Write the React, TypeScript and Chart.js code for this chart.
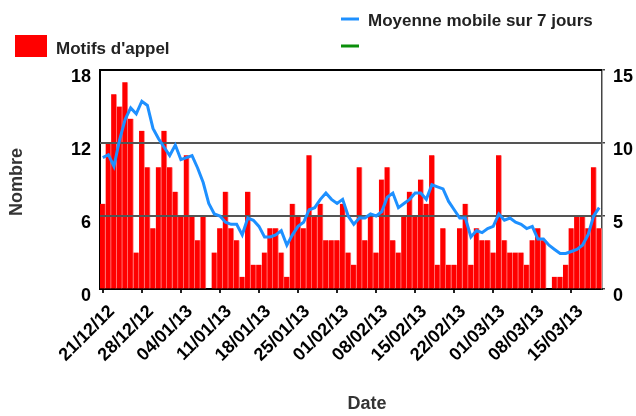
import React, { useEffect, useRef } from 'react';
import { Chart, registerables } from 'chart.js';

Chart.register(...registerables);

// Categories: one per day, 21/12/12 -> 20/03/13
const DAYS: string[] = [
  '21/12/12', '22/12/12', '23/12/12', '24/12/12', '25/12/12', '26/12/12', '27/12/12', '28/12/12', '29/12/12', '30/12/12', '31/12/12',
  '01/01/13', '02/01/13', '03/01/13', '04/01/13', '05/01/13', '06/01/13', '07/01/13', '08/01/13', '09/01/13', '10/01/13',
  '11/01/13', '12/01/13', '13/01/13', '14/01/13', '15/01/13', '16/01/13', '17/01/13', '18/01/13', '19/01/13', '20/01/13',
  '21/01/13', '22/01/13', '23/01/13', '24/01/13', '25/01/13', '26/01/13', '27/01/13', '28/01/13', '29/01/13', '30/01/13', '31/01/13',
  '01/02/13', '02/02/13', '03/02/13', '04/02/13', '05/02/13', '06/02/13', '07/02/13', '08/02/13', '09/02/13', '10/02/13',
  '11/02/13', '12/02/13', '13/02/13', '14/02/13', '15/02/13', '16/02/13', '17/02/13', '18/02/13', '19/02/13', '20/02/13',
  '21/02/13', '22/02/13', '23/02/13', '24/02/13', '25/02/13', '26/02/13', '27/02/13', '28/02/13',
  '01/03/13', '02/03/13', '03/03/13', '04/03/13', '05/03/13', '06/03/13', '07/03/13', '08/03/13', '09/03/13', '10/03/13',
  '11/03/13', '12/03/13', '13/03/13', '14/03/13', '15/03/13', '16/03/13', '17/03/13', '18/03/13', '19/03/13', '20/03/13',
];

// Daily counts (left axis)
const MOTIFS: number[] = [
  7, 12, 16, 15, 17, 14, 3, 13, 10, 5,
  10, 13, 10, 8, 6, 11, 6, 4, 6, 0,
  3, 5, 8, 5, 4, 1, 8, 2, 2, 3,
  5, 5, 3, 1, 7, 6, 5, 11, 6, 7,
  4, 4, 4, 7, 3, 2, 10, 4, 6, 3,
  9, 10, 4, 3, 6, 8, 6, 9, 7, 11,
  2, 5, 2, 2, 5, 7, 2, 5, 4, 4,
  3, 11, 4, 3, 3, 3, 2, 4, 5, 4,
  0, 1, 1, 2, 5, 6, 6, 5, 10, 5,
];

// 7-day moving average (right axis)
const MOYENNE: number[] = [
  9.0, 9.2, 8.4, 10.2, 11.6, 12.4, 12.0, 12.86, 12.57, 11.0,
  10.29, 9.71, 9.14, 9.86, 8.86, 9.0, 9.14, 8.29, 7.29, 5.86,
  5.14, 5.0, 4.57, 4.43, 4.43, 3.71, 4.86, 4.71, 4.29, 3.57,
  3.57, 3.71, 4.0, 3.0, 3.71, 4.29, 4.57, 5.43, 5.57, 6.14,
  6.57, 6.14, 5.86, 6.14, 5.0, 4.43, 4.86, 4.86, 5.14, 5.0,
  5.29, 6.29, 6.57, 5.57, 5.86, 6.14, 6.57, 6.57, 6.14, 7.14,
  7.0, 6.86, 6.0, 5.43, 4.86, 4.86, 3.57, 4.0, 3.86, 4.14,
  4.29, 5.14, 4.71, 4.86, 4.57, 4.43, 4.14, 4.29, 3.43, 3.43,
  3.0, 2.71, 2.43, 2.43, 2.57, 2.71, 3.0, 3.71, 5.0, 5.57,
];

// Unnamed green series (legend entry only)
const EMPTY_SERIES: (number | null)[] = [];

const LEGEND_BAR = "Motifs d'appel";
const LEGEND_LINE = 'Moyenne mobile sur 7 jours';
const LEGEND_GREEN = '';
const Y_TITLE = 'Nombre';
const X_TITLE = 'Date';

const RED = '#ff0000';
const BLUE = '#1e90ff';
const GREEN = '#0a8f0a';

const SANS = "'Liberation Sans', Arial, Helvetica, sans-serif";

export default function App() {
  const ref = useRef<HTMLCanvasElement>(null);

  useEffect(() => {
    document.body.style.margin = '0';
    document.body.style.overflow = 'hidden';
    const canvas = ref.current;
    if (!canvas) return;

    const gridOverBars = {
      id: 'gridOverBars',
      afterDatasetDraw(chart: any, args: any) {
        if (args.index !== 0) return;
        const { ctx, chartArea } = chart;
        const ys = chart.scales.y;
        ctx.save();
        ys.ticks.forEach((t: any) => {
          if (t.value <= 0) return;
          const py = Math.round(ys.getPixelForValue(t.value));
          ctx.beginPath();
          ctx.strokeStyle = t.value >= ys.max ? '#000000' : '#555555';
          ctx.lineWidth = 2;
          ctx.moveTo(chartArea.left, py);
          ctx.lineTo(chartArea.right, py);
          ctx.stroke();
        });
        ctx.restore();
      },
    };

    const decor = {
      id: 'decor',
      afterDraw(chart: any) {
        const { ctx } = chart;
        ctx.save();
        // legend: bars
        ctx.fillStyle = RED;
        ctx.fillRect(15, 35, 32, 22);
        ctx.font = `bold 17px ${SANS}`;
        ctx.fillStyle = '#222222';
        ctx.textAlign = 'left';
        ctx.textBaseline = 'alphabetic';
        ctx.fillText(LEGEND_BAR, 56, 54);
        // legend: lines
        ctx.lineWidth = 3;
        ctx.strokeStyle = BLUE;
        ctx.beginPath();
        ctx.moveTo(341, 19);
        ctx.lineTo(359, 19);
        ctx.stroke();
        ctx.fillText(LEGEND_LINE, 368, 26);
        ctx.strokeStyle = GREEN;
        ctx.beginPath();
        ctx.moveTo(341, 46);
        ctx.lineTo(359, 46);
        ctx.stroke();
        ctx.fillText(LEGEND_GREEN, 368, 53);
        // axis titles
        ctx.font = `bold 18px ${SANS}`;
        ctx.fillStyle = '#333333';
        ctx.textAlign = 'center';
        ctx.textBaseline = 'middle';
        ctx.fillText(X_TITLE, 367, 404);
        ctx.translate(17.5, 182);
        ctx.rotate(-Math.PI / 2);
        ctx.fillText(Y_TITLE, 0, 0);
        ctx.restore();
      },
    };

    const chart = new Chart(canvas, {
      type: 'bar',
      data: {
        labels: DAYS,
        datasets: [
          {
            type: 'bar',
            label: LEGEND_BAR,
            data: MOTIFS,
            backgroundColor: RED,
            borderColor: '#ff8c8c',
            borderWidth: { top: 0, right: 1, bottom: 0, left: 0 },
            barPercentage: 1,
            categoryPercentage: 1,
            yAxisID: 'y',
            order: 1,
          } as any,
          {
            type: 'line',
            label: LEGEND_LINE,
            data: MOYENNE,
            borderColor: BLUE,
            backgroundColor: BLUE,
            borderWidth: 3,
            pointRadius: 0,
            tension: 0,
            yAxisID: 'y1',
            order: 0,
          } as any,
          {
            type: 'line',
            label: LEGEND_GREEN,
            data: EMPTY_SERIES,
            borderColor: GREEN,
            borderWidth: 3,
            pointRadius: 0,
            yAxisID: 'y1',
            order: 0,
          } as any,
        ],
      },
      options: {
        responsive: false,
        maintainAspectRatio: false,
        animation: false,
        layout: { padding: { top: 70, left: 0, right: 0, bottom: 0 } },
        plugins: {
          legend: { display: false },
          tooltip: { enabled: false },
          title: { display: false },
        },
        scales: {
          x: {
            type: 'category',
            offset: true,
            grid: {
              offset: false,
              drawOnChartArea: false,
              drawTicks: true,
              tickLength: 4,
              lineWidth: 2,
              color: (c: any) => (c.index % 7 === 0 ? '#222222' : 'rgba(0,0,0,0)'),
            },
            border: { display: true, color: '#000000', width: 2 },
            ticks: {
              autoSkip: false,
              maxRotation: 45,
              minRotation: 45,
              padding: 8,
              labelOffset: 9,
              color: '#000000',
              font: { family: SANS, size: 18, weight: 'bold' },
              callback: (_v: any, i: number) => (i % 7 === 0 ? DAYS[i] : ''),
            },
            afterFit: (s: any) => {
              s.height = 127;
            },
          },
          y: {
            position: 'left',
            min: 0,
            max: 18,
            ticks: {
              stepSize: 6,
              padding: 9,
              labelOffset: 7,
              color: '#000000',
              font: { family: SANS, size: 18, weight: 'bold' },
            },
            grid: { drawOnChartArea: false, drawTicks: false },
            border: { display: true, color: '#000000', width: 2 },
            afterFit: (s: any) => {
              s.width = 100;
            },
          },
          y1: {
            position: 'right',
            min: 0,
            max: 15,
            ticks: {
              stepSize: 5,
              padding: 8,
              labelOffset: 7,
              color: '#000000',
              font: { family: SANS, size: 18, weight: 'bold' },
            },
            grid: { drawOnChartArea: false, drawTicks: true, tickLength: 3, color: '#444444', lineWidth: 1.5 },
            border: { display: true, color: '#444444', width: 1.5 },
            afterFit: (s: any) => {
              s.width = 34;
            },
          },
        },
      } as any,
      plugins: [gridOverBars, decor],
    });

    return () => {
      chart.destroy();
    };
  }, []);

  return (
    <div style={{ width: 636, height: 416 }}>
      <canvas ref={ref} width={636} height={416} style={{ display: 'block' }} />
    </div>
  );
}
